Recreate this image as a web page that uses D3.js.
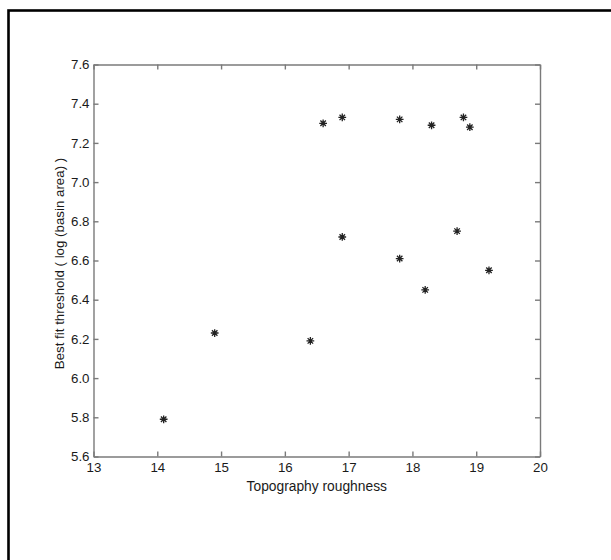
<!DOCTYPE html>
<html>
<head>
<meta charset="utf-8">
<script src="https://cdn.jsdelivr.net/npm/d3@7"></script>
<style>
  html, body { margin: 0; padding: 0; background: #fff; }
  svg { display: block; }
  .axis text { font-family: "Liberation Sans", Arial, sans-serif; font-size: 13.3px; fill: #1a1a1a; }
  .axis path, .axis line { stroke: #7a7a7a; stroke-width: 1.4; }
</style>
</head>
<body>
<script>
const roughness = [14.1, 14.9, 16.4, 16.6, 16.9, 16.9, 17.8, 17.8, 18.2, 18.3, 18.7, 18.8, 18.9, 19.2];
const threshold = [5.79, 6.23, 6.19, 7.30, 7.33, 6.72, 7.32, 6.61, 6.45, 7.29, 6.75, 7.33, 7.28, 6.55];
const xTicks = [13, 14, 15, 16, 17, 18, 19, 20];
const yTicks = [5.6, 5.8, 6.0, 6.2, 6.4, 6.6, 6.8, 7.0, 7.2, 7.4, 7.6];

// matlab style '*' marker : a plus and a cross on top of each other
const starSymbol = {
  draw(context, size) {
    const r = Math.sqrt(size) / 2;
    const d = r * Math.SQRT1_2;
    context.moveTo(-r, 0); context.lineTo(r, 0);
    context.moveTo(0, -r); context.lineTo(0, r);
    context.moveTo(-d, -d); context.lineTo(d, d);
    context.moveTo(-d, d); context.lineTo(d, -d);
  }
};

const drawScatter = () => {
  const dimension = {width: 611, height: 560};
  const plot = {left: 93.5, right: 540, top: 64.5, bottom: 456.5};

  const svg = d3.select('body')
    .append('svg')
    .attr('width', dimension.width)
    .attr('height', dimension.height);

  // outer frame, its right and bottom edges fall outside the picture
  svg.append('rect')
    .attr('x', 8.5)
    .attr('y', 10.5)
    .attr('width', 700)
    .attr('height', 700)
    .attr('fill', 'none')
    .attr('stroke', '#000')
    .attr('stroke-width', 2.6);

  const xScale = d3.scaleLinear()
    .domain([13, 20])
    .range([plot.left, plot.right]);

  const yScale = d3.scaleLinear()
    .domain([5.6, 7.6])
    .range([plot.bottom, plot.top]);

  svg.append('g')
    .attr('class', 'axis')
    .attr('transform', `translate(0, ${plot.bottom})`)
    .call(d3.axisBottom(xScale).tickValues(xTicks).tickSizeInner(-5).tickSizeOuter(0).tickPadding(6).tickFormat(d3.format('d')));

  svg.append('g')
    .attr('class', 'axis')
    .attr('transform', `translate(0, ${plot.top})`)
    .call(d3.axisTop(xScale).tickValues(xTicks).tickSizeInner(-5).tickSizeOuter(0).tickFormat(''));

  svg.append('g')
    .attr('class', 'axis')
    .attr('transform', `translate(${plot.left}, 0)`)
    .call(d3.axisLeft(yScale).tickValues(yTicks).tickSizeInner(-5).tickSizeOuter(0).tickPadding(4).tickFormat(d3.format('.1f')));

  svg.append('g')
    .attr('class', 'axis')
    .attr('transform', `translate(${plot.right}, 0)`)
    .call(d3.axisRight(yScale).tickValues(yTicks).tickSizeInner(-5).tickSizeOuter(0).tickFormat(''));

  svg.append('text')
    .attr('x', (plot.left + plot.right) / 2)
    .attr('y', 490.5)
    .attr('text-anchor', 'middle')
    .attr('font-family', '"Liberation Sans", Arial, sans-serif')
    .attr('font-size', 13.8)
    .attr('fill', '#1a1a1a')
    .text('Topography roughness');

  svg.append('text')
    .attr('transform', `translate(63.5, ${(plot.top + plot.bottom) / 2 + 3}) rotate(-90)`)
    .attr('text-anchor', 'middle')
    .attr('font-family', '"Liberation Sans", Arial, sans-serif')
    .attr('font-size', 13.3)
    .attr('fill', '#1a1a1a')
    .text('Best fit threshold ( log (basin area) )');

  const star = d3.symbol().type(starSymbol).size(60);

  svg.append('g')
    .selectAll('path')
    .data(roughness.map((x, i) => [x, threshold[i]]))
    .enter()
    .append('path')
    .attr('transform', d => `translate(${xScale(d[0])}, ${yScale(d[1])})`)
    .attr('d', star)
    .attr('fill', 'none')
    .attr('stroke', '#222')
    .attr('stroke-width', 1.3);
}

document.addEventListener('DOMContentLoaded', () => {
  drawScatter();
});
</script>
</body>
</html>
